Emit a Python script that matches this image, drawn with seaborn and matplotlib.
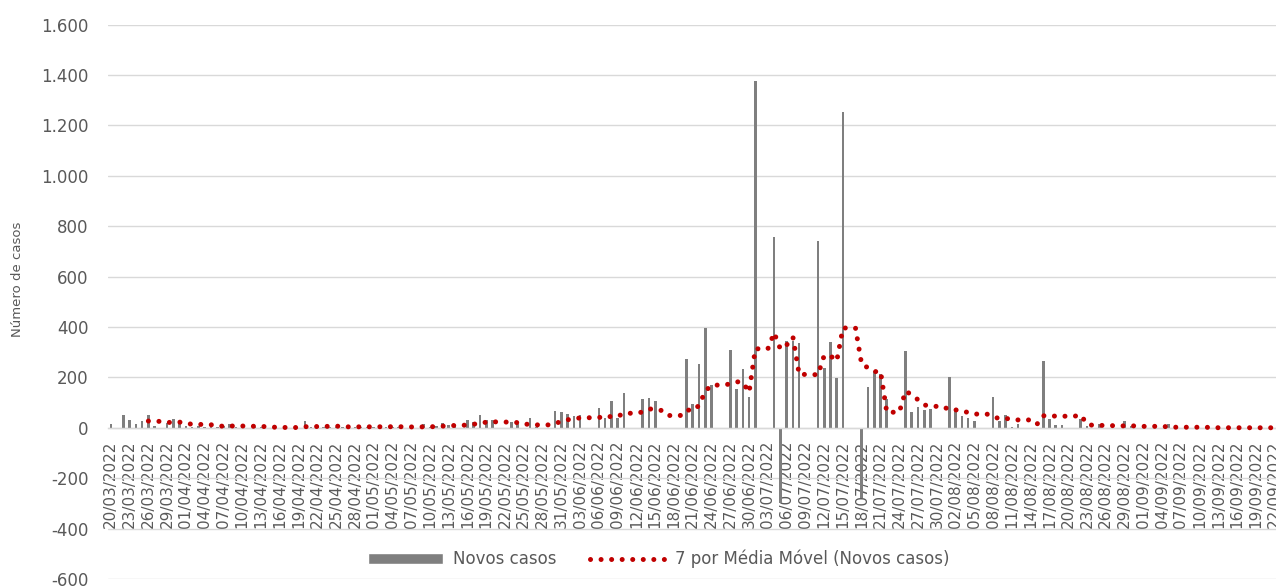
import numpy as np
import pandas as pd
import seaborn as sns
import matplotlib.pyplot as plt
from matplotlib.patches import Patch
from matplotlib.lines import Line2D
from matplotlib.ticker import FuncFormatter

# novos casos diarios, de 20/03/2022 a 22/09/2022
novos_casos = [
    16, 0, 49, 30, 16, 26, 50, 7, 0, 18,
    33, 22, 7, 5, 6, 5, 6, 5, 8, 14,
    5, 6, 0, 3, 2, 0, 1, 0, 2, 1,
    0, 26, 3, 2, 4, 5, 3, 2, 6, 4,
    3, 5, 4, 6, 3, 5, 4, 0, 2, 0,
    13, 5, 8, 18, 12, 8, 0, 29, 22, 51,
    29, 29, 0, 0, 22, 13, 0, 40, 5, 0,
    0, 65, 62, 53, 48, 51, 0, 0, 78, 38,
    108, 40, 139, 0, 0, 115, 119, 107, 0, 0,
    0, 0, 273, 95, 253, 396, 168, 0, 0, 310,
    152, 234, 121, 1376, 0, 0, 755, -300, 346, 346,
    335, 0, 0, 742, 238, 339, 198, 1254, 0, 0,
    -280, 161, 224, 212, 115, 0, 0, 305, 62, 84,
    69, 75, 0, 0, 201, 69, 45, 38, 28, 0,
    0, 121, 26, 50, 5, 16, 0, 0, 0, 264,
    35, 11, 11, 0, 0, 36, 7, 0, 16, 0,
    0, 0, 28, 9, 0, 2, 0, 1, 0, 13,
    0, 1, 0, 0, 1, 0, 0, 0, 0, 1,
    0, 0, 0, 0, 0, 0, 0,
]
inicio = "2022-03-20"
yticks = [-600, -400, -200, 0, 200, 400, 600, 800, 1000, 1200, 1400, 1600]

cinza = "#7f7f7f"
vermelho = "#c00000"
texto = "#595959"

datas = pd.date_range(inicio, periods=len(novos_casos), freq="D")
df = pd.DataFrame({"dia": np.arange(len(novos_casos)), "novos": novos_casos})
# linha de tendencia do Excel: media movel de 7 periodos
df["media"] = df["novos"].rolling(7).mean()

sns.set_style("white")
plt.rcParams["font.family"] = ["DejaVu Sans"]

fig = plt.figure(figsize=(12.76, 5.88), dpi=100)
ax = fig.add_axes([107.7 / 1276, 1 - 579 / 588, (1276 - 107.7) / 1276, 554.5 / 588])

sns.barplot(data=df, x="dia", y="novos", color=cinza, saturation=1,
            width=0.42, errorbar=None, linewidth=0, ax=ax, zorder=2)
sns.lineplot(data=df, x="dia", y="media", color=vermelho, linewidth=3.6,
             linestyle=(0, (0.01, 2.1)), dash_capstyle="round", ax=ax, zorder=3)

n = len(novos_casos)
ax.set_xlim(-0.5, 186.2)
ax.set_ylim(-600, 1600)
ax.set_yticks(yticks)
ax.yaxis.set_major_formatter(FuncFormatter(lambda v, p: f"{v:,.0f}".replace(",", ".")))
ax.yaxis.grid(True, color="#d9d9d9", linewidth=1)
ax.xaxis.grid(False)
ax.set_axisbelow(True)

ax.set_xticks(np.arange(0, n, 3))
ax.set_xticklabels(datas.strftime("%d/%m/%Y")[::3])
ax.set_xticks(np.arange(-0.5, n, 3), minor=True)
ax.tick_params(axis="x", which="major", length=0, pad=9, labelsize=11,
               labelcolor=texto, labelrotation=90)
ax.tick_params(axis="x", which="minor", length=5, width=1, color="#d9d9d9", direction="out")
ax.tick_params(axis="y", length=0, pad=14, labelsize=12, labelcolor=texto)

for s in ["left", "right", "top"]:
    ax.spines[s].set_visible(False)
ax.spines["bottom"].set_position(("data", 0))
ax.spines["bottom"].set_color("#d9d9d9")
ax.spines["bottom"].set_linewidth(1)

ax.set_xlabel("")
ax.set_ylabel("")
fig.text(18 / 1276, 1 - 279 / 588, "Número de casos", rotation=90,
         ha="center", va="center", fontsize=9.5, color=texto)

handles = [
    Patch(facecolor=cinza),
    Line2D([], [], color=vermelho, linewidth=3.6, linestyle=(0, (0.01, 2.1)),
           dash_capstyle="round"),
]
fig.legend(handles, ["Novos casos", "7 por Média Móvel (Novos casos)"],
           loc="center", bbox_to_anchor=(0.516, 0.049), ncol=2, frameon=False,
           fontsize=12, handlelength=4.5, handletextpad=0.6, columnspacing=2.0,
           labelcolor=texto)

fig.savefig("out.png", dpi=100)
